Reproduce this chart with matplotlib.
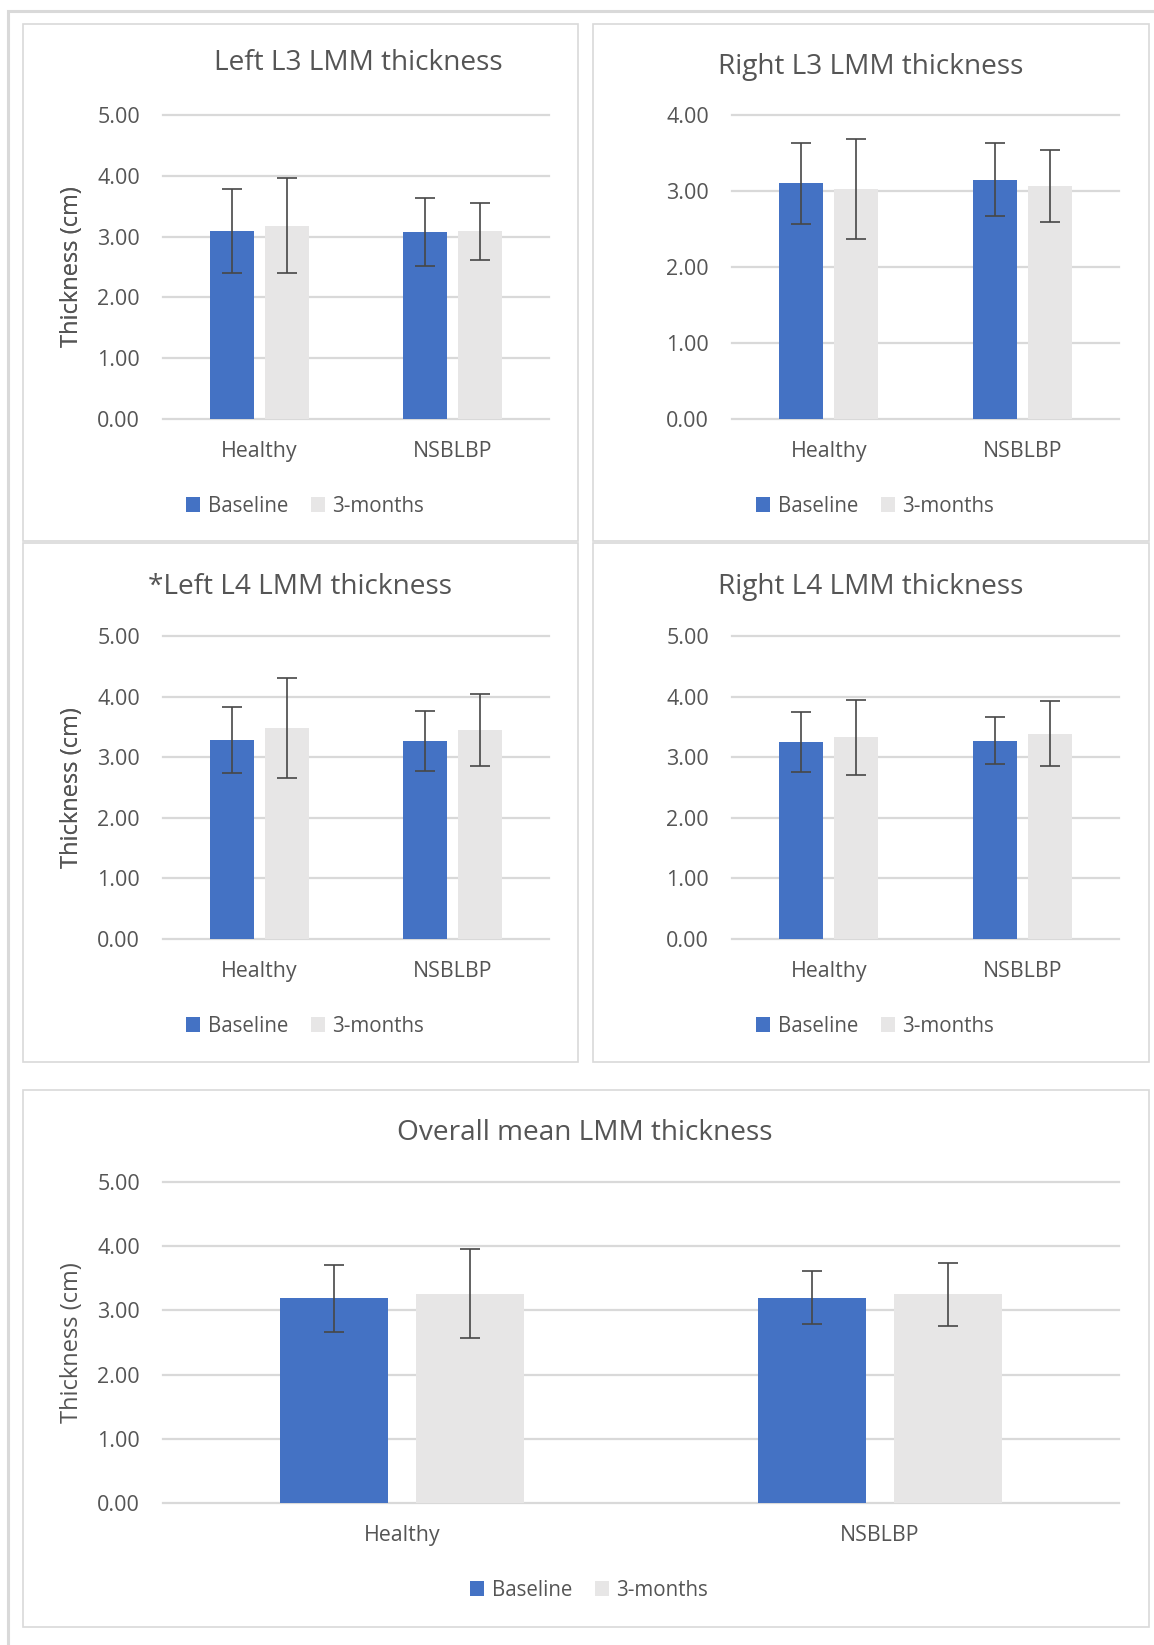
import matplotlib
matplotlib.use("Agg")
import matplotlib.pyplot as plt
from matplotlib.patches import Rectangle, Patch

plt.rcParams['font.family'] = ['Open Sans', 'DejaVu Sans']

# ---- data -------------------------------------------------------------
groups = ["Healthy", "NSBLBP"]
series = ["Baseline", "3-months"]

left_l3_base = [3.09, 3.08]
left_l3_base_sd = [0.69, 0.56]
left_l3_3m = [3.18, 3.09]
left_l3_3m_sd = [0.78, 0.47]

right_l3_base = [3.10, 3.15]
right_l3_base_sd = [0.535, 0.485]
right_l3_3m = [3.03, 3.07]
right_l3_3m_sd = [0.66, 0.475]

left_l4_base = [3.29, 3.27]
left_l4_base_sd = [0.545, 0.50]
left_l4_3m = [3.48, 3.45]
left_l4_3m_sd = [0.825, 0.595]

right_l4_base = [3.25, 3.27]
right_l4_base_sd = [0.50, 0.39]
right_l4_3m = [3.33, 3.39]
right_l4_3m_sd = [0.62, 0.54]

overall_base = [3.19, 3.20]
overall_base_sd = [0.52, 0.41]
overall_3m = [3.26, 3.25]
overall_3m_sd = [0.69, 0.49]

titles = ["Left L3 LMM thickness", "Right L3 LMM thickness",
          "*Left L4 LMM thickness", "Right L4 LMM thickness",
          "Overall mean LMM thickness"]
y_label = "Thickness (cm)"

# ---- styling ----------------------------------------------------------
W, H = 1154, 1645
BLUE = "#4472C4"
GREY = "#E7E6E6"
TEXT = "#555555"
GRID = "#D9D9D9"
ERR = "#474747"

fig = plt.figure(figsize=(W / 100, H / 100), dpi=100)


def fx(px):
    return px / W


def fy(py):
    return 1 - py / H


# outer frame and panel boxes (pixel coordinates)
fig.patches.append(Rectangle((fx(8), fy(1660)), fx(1160 - 8), (1660 - 11) / H,
                             transform=fig.transFigure, fill=False,
                             edgecolor="#D9D9D9", linewidth=2.2))
panel_boxes = [(23, 24, 578, 541), (593, 24, 1149, 541),
               (23, 543, 578, 1062), (593, 543, 1149, 1062),
               (23, 1090, 1149, 1627)]
for x0, y0, x1, y1 in panel_boxes:
    fig.patches.append(Rectangle((fx(x0), fy(y1)), fx(x1 - x0), (y1 - y0) / H,
                                 transform=fig.transFigure, fill=False,
                                 edgecolor="#D9D9D9", linewidth=1.2))

# plot-area extents: (left, top, right, bottom) in pixels
plot_areas = [(163, 115, 549, 419), (732, 115, 1119, 419),
              (163, 636, 549, 939), (732, 636, 1119, 939),
              (163, 1182, 1119, 1503)]
ymaxes = [5, 4, 5, 5, 5]
title_pos = [(358, 63), (871, 67), (300, 587), (871, 587), (585, 1133)]
legend_pos = [(305, 506), (875, 506), (305, 1026), (875, 1026), (589, 1590)]

panels = [
    (left_l3_base, left_l3_base_sd, left_l3_3m, left_l3_3m_sd),
    (right_l3_base, right_l3_base_sd, right_l3_3m, right_l3_3m_sd),
    (left_l4_base, left_l4_base_sd, left_l4_3m, left_l4_3m_sd),
    (right_l4_base, right_l4_base_sd, right_l4_3m, right_l4_3m_sd),
    (overall_base, overall_base_sd, overall_3m, overall_3m_sd),
]

bar_w = 0.227
offset = 0.142
x = list(range(len(groups)))

for i, (b, bsd, m, msd) in enumerate(panels):
    l, t, r, btm = plot_areas[i]
    ax = fig.add_axes([fx(l), fy(btm), fx(r - l), (btm - t) / H])
    ax.set_ylim(0, ymaxes[i])
    ax.set_xlim(-0.5, 1.5)
    ax.set_yticks(range(0, ymaxes[i] + 1))
    ax.set_yticklabels([f"{v:.2f}" for v in range(0, ymaxes[i] + 1)])
    ax.grid(axis="y", color=GRID, linewidth=1.6)
    for gl in ax.get_ygridlines():
        gl.set_clip_on(False)
    ax.set_axisbelow(True)
    for s in ax.spines.values():
        s.set_visible(False)
    ax.patch.set_visible(False)

    ekw = dict(ecolor=ERR, elinewidth=1.2, capsize=7, capthick=1.2)
    ax.bar([xi - offset for xi in x], b, bar_w, color=BLUE,
           yerr=bsd, error_kw=ekw, label=series[0], zorder=2)
    ax.bar([xi + offset for xi in x], m, bar_w, color=GREY,
           yerr=msd, error_kw=ekw, label=series[1], zorder=2)

    ax.set_xticks(x)
    ax.set_xticklabels(groups)
    ax.tick_params(axis="both", length=0, colors=TEXT)
    ax.tick_params(axis="y", pad=16.5, labelsize=15.5)
    ax.tick_params(axis="x", pad=16, labelsize=15.4)

    ax.set_ylabel(y_label, color=TEXT, fontsize=17, va="center")
    ax.yaxis.set_label_coords(fx(72), fy((t + btm) / 2), transform=fig.transFigure)

    tx, ty = title_pos[i]
    fig.text(fx(tx), fy(ty), titles[i], ha="center", va="center",
             color=TEXT, fontsize=20.2)

    lx, ly = legend_pos[i]
    handles = [Patch(facecolor=BLUE, edgecolor="none", label=series[0]),
               Patch(facecolor=GREY, edgecolor="none", label=series[1])]
    fig.legend(handles=handles, loc="center", bbox_to_anchor=(fx(lx), fy(ly)),
               ncol=2, frameon=False, fontsize=14.8, labelcolor=TEXT,
               handlelength=0.7, handleheight=0.7, handletextpad=0.35,
               columnspacing=1.1, borderpad=0)

fig.savefig("out.png", dpi=100, facecolor="white")
